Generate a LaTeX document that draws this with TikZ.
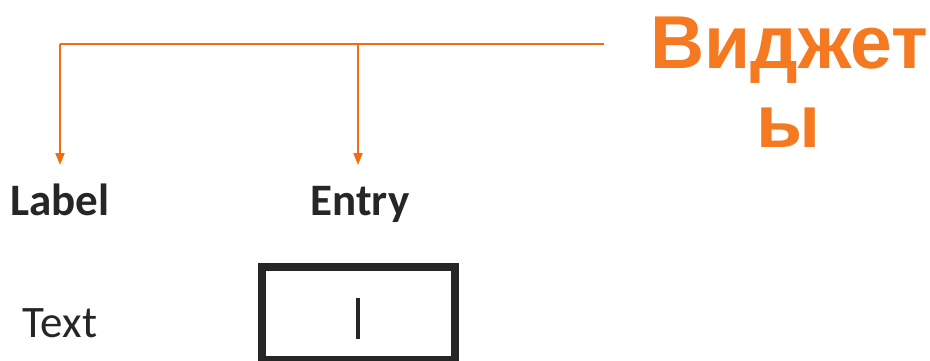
\documentclass[tikz,border=0pt]{standalone}
\usepackage{fontspec}
\setmainfont{Carlito}
\newfontfamily\headfont{Liberation Sans}
\usetikzlibrary{arrows.meta}
\definecolor{orline}{RGB}{242,108,18}
\definecolor{ortext}{RGB}{244,121,32}
\definecolor{dark}{RGB}{38,38,38}
\tikzset{
  conn/.style={draw=orline, line width=2pt, -{Triangle[width=9pt,length=12pt]}},
  trunk/.style={draw=orline, line width=2pt},
  hdr/.style={font=\fontsize{45}{50}\selectfont\bfseries, text=dark, anchor=base, inner sep=0pt},
  plain/.style={font=\fontsize{45}{50}\selectfont, text=dark, anchor=base, inner sep=0pt},
  title/.style={font=\headfont\bfseries\fontsize{75}{79}\selectfont, text=ortext, align=center, inner sep=0pt, anchor=north},
}
\begin{document}
\begin{tikzpicture}[x=1pt,y=-1pt]
\useasboundingbox (0,0) rectangle (930,360);
% title
\node[title] (ttl) at (789,17) {Виджет\\ы};
% trunk
\coordinate (tR) at (604,44);
\coordinate (tL) at (60,44);
\coordinate (tM) at (358,44);
\node[hdr] (lab) at (60,215) {Label};
\node[hdr] (ent) at (360,215) {Entry};
\node[plain] (txt) at (60,337) {Text};
\coordinate (aL) at (60,165);
\coordinate (aM) at (358,165);
\draw[trunk] (tR) -- (tL);
\draw[conn] (tL) -- (aL);
\draw[conn] (tM) -- (aM);
% entry box
\draw[draw=dark, line width=8pt] (262,267) rectangle (455,360);
\coordinate (c1) at (358,298);
\coordinate (c2) at (358,339);
\draw[draw=dark, line width=3.5pt] (c1) -- (c2);
\end{tikzpicture}
\end{document}
